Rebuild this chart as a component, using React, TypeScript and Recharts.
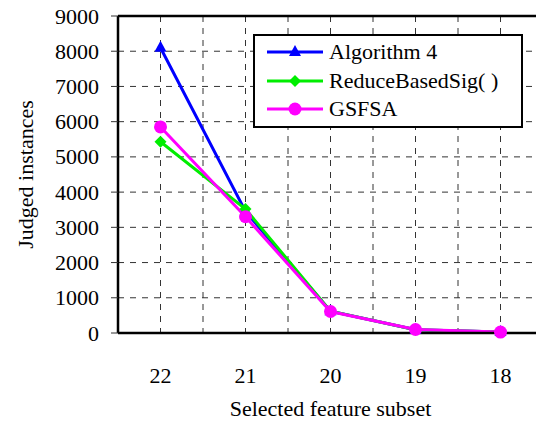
import { CartesianGrid, Legend, Line, LineChart, ReferenceLine, XAxis, YAxis } from 'recharts'

const subsets = ['22', '21', '20', '19', '18']
const algorithm4 = [8100, 3450, 620, 90, 25]
const reduceBasedSig = [5430, 3520, 620, 90, 25]
const gsfsa = [5850, 3300, 610, 100, 25]
const yTicks = [0, 1000, 2000, 3000, 4000, 5000, 6000, 7000, 8000, 9000]

const data = subsets.map((s, i) => ({
  subset: s,
  alg4: algorithm4[i],
  rbs: reduceBasedSig[i],
  gsfsa: gsfsa[i]
}))

const FONT = "'Liberation Serif', 'DejaVu Serif', Tinos, serif"

const series = [
  { key: 'alg4', name: 'Algorithm 4', color: '#0000ff', shape: 'triangle' },
  { key: 'rbs', name: 'ReduceBasedSig( )', color: '#00ee00', shape: 'diamond' },
  { key: 'gsfsa', name: 'GSFSA', color: '#ff00ff', shape: 'circle' }
]

const Marker = ({ cx, cy, shape, color }: any) => {
  if (cx == null || cy == null) return null
  if (shape === 'triangle')
    return <polygon points={`${cx},${cy - 7} ${cx - 6},${cy + 4} ${cx + 6},${cy + 4}`} fill={color} />
  if (shape === 'diamond')
    return <polygon points={`${cx},${cy - 6} ${cx + 6},${cy} ${cx},${cy + 6} ${cx - 6},${cy}`} fill={color} />
  return <circle cx={cx} cy={cy} r={6.5} fill={color} />
}

const LegendBox = () => (
  <div
    style={{
      width: 266,
      height: 88,
      border: '2px solid #000',
      background: '#fff',
      fontFamily: FONT,
      fontSize: 22,
      paddingTop: 2,
      boxSizing: 'content-box'
    }}
  >
    {series.map((s) => (
      <div key={s.key} style={{ display: 'flex', alignItems: 'center', height: 28.5 }}>
        <svg width={74} height={20} style={{ flexShrink: 0 }}>
          <line x1={12} y1={10} x2={68} y2={10} stroke={s.color} strokeWidth={3} />
          <Marker cx={40} cy={10} shape={s.shape} color={s.color} />
        </svg>
        <span style={{ lineHeight: '22px' }}>{s.name}</span>
      </div>
    ))}
  </div>
)

const YTick = ({ x, y, payload }: any) => (
  <text x={x} y={y} textAnchor="end" dominantBaseline="central" style={{ fontFamily: FONT }} fontSize={22} fill="#000">
    {payload.value}
  </text>
)

const XTick = ({ x, y, payload }: any) => (
  <text x={x} y={y + 34} textAnchor="middle" dominantBaseline="central" style={{ fontFamily: FONT }} fontSize={22} fill="#000">
    {payload.value}
  </text>
)

export default function App() {
  return (
    <div style={{ position: 'absolute', left: 0, top: 0, width: 536, height: 421, overflow: 'hidden', background: '#fff', fontFamily: FONT }}>
      <LineChart width={543} height={421} data={data} margin={{ top: 16, right: 0, bottom: 0, left: 0 }} style={{ fontFamily: FONT }}>
        <CartesianGrid
          stroke="#333"
          strokeDasharray="6 6"
          verticalCoordinatesGenerator={({ offset }: any) =>
            Array.from({ length: 9 }, (_, i) => offset.left + ((i + 1) * offset.width) / 10)
          }
        />
        <XAxis
          dataKey="subset"
          scale="band"
          height={88}
          tickLine={false}
          axisLine={{ stroke: '#000', strokeWidth: 2.5 }}
          tick={<XTick />}
          interval={0}
          label={{
            content: ({ viewBox }: any) => (
              <text
                x={viewBox.x + viewBox.width / 2}
                y={viewBox.y + 75}
                textAnchor="middle"
                dominantBaseline="central"
                style={{ fontFamily: FONT }}
                fontSize={22}
                fill="#000"
              >
                Selected feature subset
              </text>
            )
          }}
        />
        <YAxis
          width={118}
          domain={[0, 9000]}
          ticks={yTicks}
          interval={0}
          tickSize={7}
          tickMargin={12}
          tickLine={{ stroke: '#333' }}
          axisLine={{ stroke: '#000', strokeWidth: 2.5 }}
          tick={<YTick />}
          label={{
            content: ({ viewBox }: any) => {
              const cx = 25
              const cy = viewBox.y + viewBox.height / 2
              return (
                <text
                  x={cx}
                  y={cy}
                  transform={`rotate(-90 ${cx} ${cy})`}
                  textAnchor="middle"
                  dominantBaseline="central"
                  style={{ fontFamily: FONT }}
                  fontSize={22}
                  fill="#000"
                >
                  Judged instances
                </text>
              )
            }
          }}
        />
        <ReferenceLine y={9000} stroke="#000" strokeWidth={2.5} />
        {series.map((s) => (
          <Line
            key={s.key}
            dataKey={s.key}
            name={s.name}
            stroke={s.color}
            strokeWidth={3}
            isAnimationActive={false}
            dot={(p: any) => <Marker key={`${s.key}-${p.index}`} cx={p.cx} cy={p.cy} shape={s.shape} color={s.color} />}
          />
        ))}
        <Legend
          layout="vertical"
          align="center"
          verticalAlign="middle"
          content={() => <LegendBox />}
          wrapperStyle={{ position: 'absolute', left: 253, top: 34, width: 'auto' }}
        />
      </LineChart>
    </div>
  )
}
